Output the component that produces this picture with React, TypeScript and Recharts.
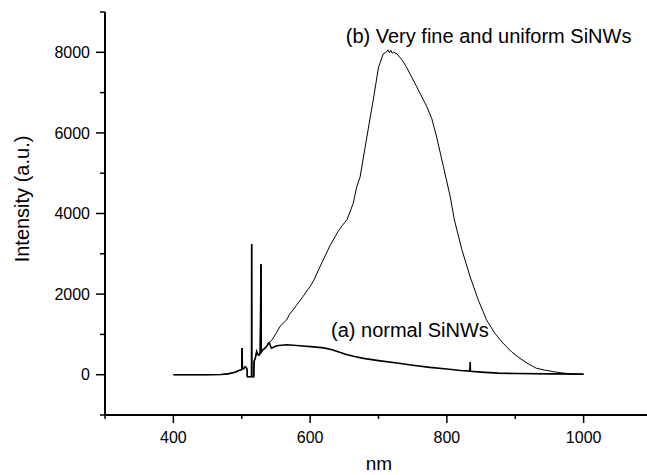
import React from "react";
import {
  LineChart,
  Line,
  XAxis,
  YAxis,
  Label,
  ReferenceDot,
} from "recharts";

// part shared by both spectra (laser lines and notch below ~540 nm)
const sharedNm = [
  400, 450, 470, 480, 490, 497, 500, 500.5, 501, 503, 505, 507, 507.8, 508.2,
  514.3, 514.5, 514.7, 517.6, 518, 520, 521.8, 523.5, 525.2, 527, 528.2, 528.6,
  530, 534, 537, 538.9,
];
const sharedIntensity = [
  0, 0, 5, 20, 60, 110, 124, 660, 150, 150, 200, 170, 120, -50,
  -50, 3243, -50, -50, 330, 420, 577, 500, 480, 560, 2740, 560,
  600, 660, 720, 780,
];

// (a) normal SiNWs
const nmA = [
  540.3, 543.3, 551, 565.7, 585, 605, 620, 632, 642, 653, 665, 678, 700, 727,
  750, 775, 800, 820, 833.5, 834, 834.5, 850, 875, 900, 950, 1000,
];
const intensityA = [
  790, 660, 720, 743, 720, 690, 665, 620, 565, 500, 450, 405, 350, 290,
  235, 181, 140, 105, 90, 314, 85, 65, 40, 28, 20, 15,
];

// (b) very fine and uniform SiNWs
const nmB = [
  540.3, 545, 551, 556, 565.7, 570, 580, 590, 600, 605, 615, 629, 641, 647,
  654, 663, 668, 673, 683, 693, 700, 707, 710, 712, 714, 716, 718, 720, 722,
  727, 735, 741, 756, 771, 778, 785, 795, 805, 811, 822, 834, 846, 858, 870,
  882, 895, 907, 919, 931, 944, 956, 968, 980, 990, 1000,
];
const intensityB = [
  800, 880, 1050, 1200, 1361, 1500, 1720, 1950, 2190, 2330, 2700, 3200, 3560,
  3700, 3850, 4250, 4650, 4900, 5900, 6890, 7630, 7960, 7990, 8010, 8060, 7990,
  8050, 7980, 8000, 7960, 7800, 7630, 7140, 6640, 6350, 5900, 5160, 4410, 3840,
  3100, 2430, 1850, 1360, 1030, 785, 560, 405, 270, 160, 110, 75, 45, 25, 12, 5,
];

const xTicks = [300, 400, 500, 600, 700, 800, 900, 1000, 1100];
const yTicks = [-1000, 0, 1000, 2000, 3000, 4000, 5000, 6000, 7000, 8000, 9000];
const xMajor = [400, 600, 800, 1000];
const yMajor = [0, 2000, 4000, 6000, 8000];

const labelB = "(b) Very fine and uniform SiNWs";
const labelA = "(a) normal SiNWs";

const toPoints = (nm: number[], v: number[]) => nm.map((n, i) => ({ nm: n, value: v[i] }));
const shared = toPoints(sharedNm, sharedIntensity);
const curveA = [...shared, ...toPoints(nmA, intensityA)];
const curveB = [...shared, ...toPoints(nmB, intensityB)];

const FONT = "'Liberation Sans', Arial, sans-serif";

const XTick = (props: any) => {
  const { x, y, payload } = props;
  const major = xMajor.includes(payload.value);
  return (
    <g>
      <line x1={x} x2={x} y1={y} y2={y + (major ? 8 : 4)} stroke="#000" strokeWidth={1.5} />
      {major && (
        <text x={x} y={y + 22} dy="0.35em" textAnchor="middle" fontSize={16} fontFamily={FONT} fill="#000">
          {payload.value}
        </text>
      )}
    </g>
  );
};

const YTick = (props: any) => {
  const { x, y, payload } = props;
  const major = yMajor.includes(payload.value);
  return (
    <g>
      <line x1={x - (major ? 9 : 5)} x2={x} y1={y} y2={y} stroke="#000" strokeWidth={1.5} />
      {major && (
        <text x={x - 15} y={y} dy="0.35em" textAnchor="end" fontSize={16} fontFamily={FONT} fill="#000">
          {payload.value}
        </text>
      )}
    </g>
  );
};

const YTitle = () => (
  <text
    x={22}
    y={199}
    transform="rotate(-90 22 199)"
    textAnchor="middle"
    dy="0.35em"
    fontSize={20}
    fontFamily={FONT}
    fill="#000"
  >
    Intensity (a.u.)
  </text>
);

const XTitle = () => (
  <text x={379} y={463} dy="0.35em" textAnchor="middle" fontSize={19} fontFamily={FONT} fill="#000">
    nm
  </text>
);

export default function App() {
  return (
    <div
      style={{
        position: "fixed",
        left: 0,
        top: 0,
        width: 647,
        height: 475,
        overflow: "hidden",
        background: "#fff",
      }}
    >
      <LineChart width={680} height={475} margin={{ top: 12, right: 28, left: 0, bottom: 0 }}>
        <XAxis
          xAxisId="top"
          orientation="top"
          type="number"
          dataKey="nm"
          domain={[300, 1100]}
          height={0}
          tick={false}
          tickLine={false}
          axisLine={{ stroke: "#000", strokeWidth: 2 }}
        />
        <XAxis
          type="number"
          dataKey="nm"
          domain={[300, 1100]}
          ticks={xTicks}
          interval={0}
          height={60}
          tickSize={0}
          tickMargin={0}
          tickLine={false}
          tick={<XTick />}
          axisLine={{ stroke: "#000", strokeWidth: 2 }}
          allowDataOverflow
        >
          <Label content={XTitle} />
        </XAxis>
        <YAxis
          type="number"
          domain={[-1000, 9000]}
          ticks={yTicks}
          interval={0}
          width={105}
          tickSize={0}
          tickMargin={0}
          tickLine={false}
          tick={<YTick />}
          axisLine={{ stroke: "#000", strokeWidth: 2 }}
          allowDataOverflow
        >
          <Label content={YTitle} />
        </YAxis>
        <Line
          data={curveB}
          dataKey="value"
          type="linear"
          stroke="#000"
          strokeWidth={1}
          dot={false}
          activeDot={false}
          isAnimationActive={false}
        />
        <Line
          data={curveA}
          dataKey="value"
          type="linear"
          stroke="#000"
          strokeWidth={1.6}
          dot={false}
          activeDot={false}
          isAnimationActive={false}
        />
        <ReferenceDot x={861} y={8400} r={0} fill="none" stroke="none">
          <Label value={labelB} position="center" fontSize={20} fontFamily={FONT} fill="#000" />
        </ReferenceDot>
        <ReferenceDot x={746} y={1110} r={0} fill="none" stroke="none">
          <Label value={labelA} position="center" fontSize={20} fontFamily={FONT} fill="#000" />
        </ReferenceDot>
      </LineChart>
    </div>
  );
}
